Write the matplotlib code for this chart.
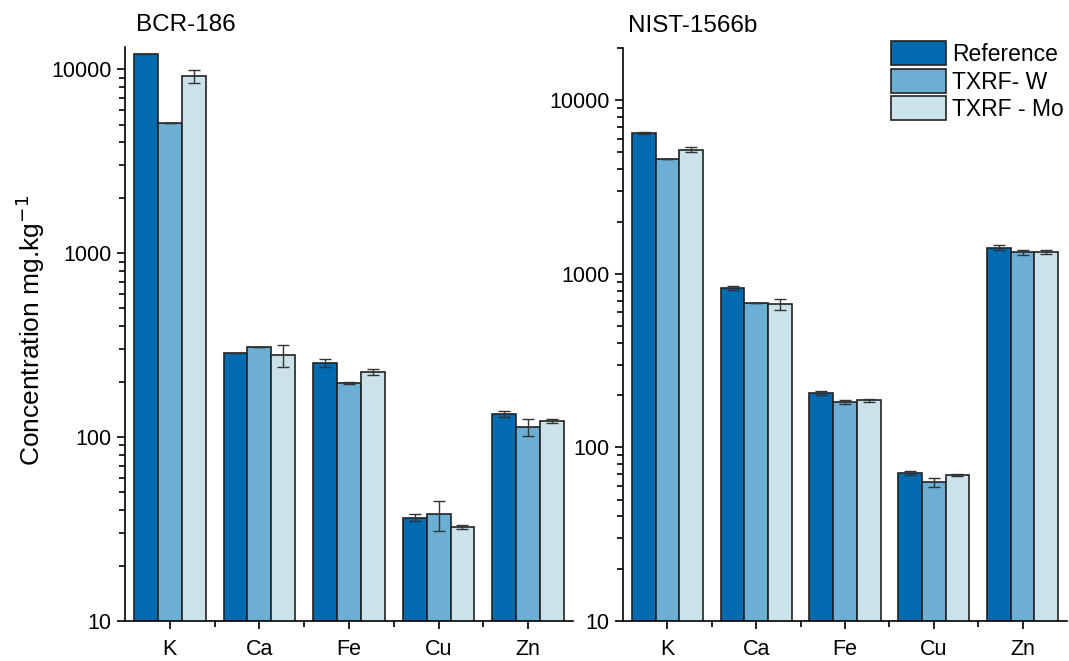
import matplotlib
matplotlib.use("Agg")
from matplotlib import pyplot as plt
from matplotlib.ticker import LogLocator, NullFormatter, FixedLocator
import numpy as np

plt.rcParams['font.family'] = ['Liberation Sans', 'DejaVu Sans']

elements = ["K", "Ca", "Fe", "Cu", "Zn"]
series = ["Reference", "TXRF- W", "TXRF - Mo"]
colors = ["#006bb1", "#6daed4", "#cbe2ea"]

# BCR-186
bcr_ref = [12100, 288, 253, 36.5, 134]
bcr_ref_err = [0, 0, 13, 1.5, 5]
bcr_w = [5100, 308, 197, 38, 113]
bcr_w_err = [0, 0, 2, 7, 12]
bcr_mo = [9150, 279, 226, 32.5, 122]
bcr_mo_err = [700, 39, 8, 0.8, 3]

# NIST-1566b
nist_ref = [6500, 830, 206, 71.5, 1416]
nist_ref_err = [80, 20, 6, 2, 50]
nist_w = [4590, 675, 182, 62.8, 1331]
nist_w_err = [0, 0, 5, 3.5, 40]
nist_mo = [5200, 666, 187, 69.2, 1331]
nist_mo_err = [150, 50, 4, 0.8, 35]

fig = plt.figure(figsize=(10.69, 6.61), dpi=100)
ax1 = fig.add_axes([0.1169, 0.0605, 0.4191, 0.8684])
ax2 = fig.add_axes([0.5828, 0.0605, 0.4153, 0.8669])

x = np.arange(len(elements))
w = 0.8 / 3


def draw(ax, vals, errs, ymax, title, title_x):
    for i, (v, e) in enumerate(zip(vals, errs)):
        ax.bar(x + (i - 1) * w, v, w, color=colors[i], edgecolor="#222222",
               linewidth=1.2, label=series[i], zorder=2)
        ax.errorbar(x + (i - 1) * w, v, yerr=e, fmt="none", ecolor="#333333",
                    elinewidth=1, capsize=4, capthick=1, zorder=3)
    ax.set_yscale("log")
    ax.set_ylim(10, ymax)
    ax.set_xlim(-0.5, 4.5)
    ax.set_xticks(x)
    ax.set_xticklabels(elements)
    ax.xaxis.set_minor_locator(FixedLocator(x[:-1] + 0.5))
    ax.yaxis.set_minor_locator(LogLocator(base=10, subs=np.arange(2, 10), numticks=10))
    ax.yaxis.set_minor_formatter(NullFormatter())
    ax.set_yticks([10, 100, 1000, 10000])
    ax.set_yticklabels(["10", "100", "1000", "10000"])
    ax.tick_params(which="major", direction="out", length=6, width=1.2, labelsize=15.5)
    ax.tick_params(which="minor", direction="out", length=4, width=1.2)
    ax.tick_params(axis="x", pad=7)
    ax.spines["top"].set_visible(False)
    ax.spines["right"].set_visible(False)
    ax.spines["left"].set_linewidth(1.2)
    ax.spines["bottom"].set_linewidth(1.2)
    ax.text(title_x, 1.02, title, transform=ax.transAxes, fontsize=17.5, ha="left", va="bottom")


draw(ax1, [bcr_ref, bcr_w, bcr_mo], [bcr_ref_err, bcr_w_err, bcr_mo_err], 13200, "BCR-186", 0.025)
draw(ax2, [nist_ref, nist_w, nist_mo], [nist_ref_err, nist_w_err, nist_mo_err], 20000, "NIST-1566b", 0.012)

fig.text(0.028, 0.5, "Concentration mg.kg$^{-1}$", rotation=90, fontsize=19, va="center", ha="center")

ax2.legend(loc="upper right", bbox_to_anchor=(1.03, 1.04), frameon=False, fontsize=16.5,
           handlelength=2.4, handleheight=1.25, labelspacing=0.12, handletextpad=0.3,
           borderpad=0.2)

fig.savefig("out.png", dpi=100)
